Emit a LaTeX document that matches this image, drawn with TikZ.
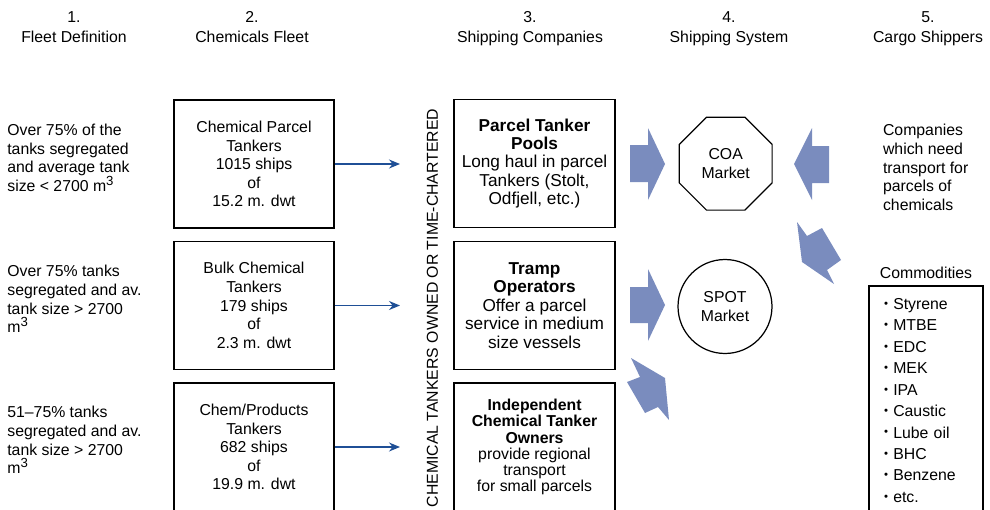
\documentclass[tikz,border=0pt]{standalone}
\usepackage{fontspec}
\setmainfont{Liberation Sans}
\usetikzlibrary{arrows.meta,shapes.geometric}
\definecolor{linkblue}{HTML}{1F4F96}
\definecolor{fatblue}{HTML}{7A8CBE}
\newcommand{\cubed}{\raisebox{0.38em}{\fontsize{7.5}{7.5}\selectfont 3}}
\newcommand{\dotmark}{\raisebox{1.2pt}{\fontsize{6.5}{6.5}\selectfont\textbullet}}

\begin{document}
\begin{tikzpicture}[x=0.02cm, y=-0.02cm,
  every node/.style={font=\fontsize{9}{10.6}\selectfont},
  head/.style={align=center, font=\fontsize{9}{11.2}\selectfont},
  side/.style={align=left, anchor=west, inner sep=0pt},
  fleet/.style={draw, line width=0.7pt, minimum width=3.2cm, minimum height=2.56cm, align=center},
  company/.style={draw, line width=0.7pt, minimum width=3.22cm, minimum height=2.56cm, align=center,
    font=\fontsize{9.8}{10.5}\selectfont},
  market/.style={draw, line width=0.7pt, inner sep=0pt, align=center},
  link/.style={draw=linkblue, line width=0.8pt, -{Stealth[length=2.2mm, width=1.8mm]}},
  fat/.style={fill=fatblue, draw=none}
]
\useasboundingbox (0,0) rectangle (990,510);

% column heads
\node[head] (h1) at (74,27)    {1.\\Fleet Definition};
\node[head] (h2) at (252,27)   {2.\\Chemicals Fleet};
\node[head] (h3) at (530,28.5) {3.\\Shipping Companies};
\node[head] (h4) at (729,28.5) {4.\\Shipping System};
\node[head] (h5) at (928,28.5) {5.\\Cargo Shippers};

% fleet definitions
\node[side] (d1) at (7,158) {Over 75\% of the\\tanks segregated\\and average tank\\size < 2700 m\cubed};
\node[side] (d2) at (7,299) {Over 75\% tanks\\segregated and av.\\tank size > 2700\\m\cubed};
\node[side] (d3) at (7,440) {51--75\% tanks\\segregated and av.\\tank size > 2700\\m\cubed};

% chemicals fleet
\node[fleet] (cf1) at (254,164)   {Chemical Parcel\\Tankers\\1015 ships\\of\\15.2 m. dwt};
\node[fleet] (cf2) at (254,305.5) {Bulk Chemical\\Tankers\\179 ships\\of\\2.3 m. dwt};
\node[fleet] (cf3) at (254,447)   {Chem/Products\\Tankers\\682 ships\\of\\19.9 m. dwt};

\node[rotate=90] (owned) at (432.5,308) {CHEMICAL TANKERS OWNED OR TIME-CHARTERED};

% shipping companies
\node[company] (sc1) at (534.5,163.5) {\textbf{Parcel Tanker}\\\textbf{Pools}\\Long haul in parcel\\Tankers (Stolt,\\Odfjell, etc.)};
\node[company] (sc2) at (534.5,305.5) {\textbf{Tramp}\\\textbf{Operators}\\Offer a parcel\\service in medium\\size vessels};
\node[company, font=\fontsize{9}{9.2}\selectfont] (sc3) at (534.5,447) {\textbf{Independent}\\\textbf{Chemical Tanker}\\\textbf{Owners}\\provide regional\\transport\\for small parcels};

% markets
\node[market, regular polygon, regular polygon sides=8, minimum size=2.01cm] (coa) at (725.7,163.7) {COA\\Market};
\node[market, circle, minimum size=1.88cm] (spot) at (725,306.5) {SPOT\\Market};

% cargo shippers
\node[side] (firms) at (882.7,167.5) {Companies\\which need\\transport for\\parcels of\\chemicals};
\node (comm) at (926,273) {Commodities};
\node[draw, line width=0.7pt, minimum width=2.28cm, minimum height=4.58cm, text width=1.68cm,
  inner xsep=0.3cm, align=left, font=\fontsize{9}{12.2}\selectfont] (list) at (926,400.5)
  {\dotmark{} Styrene\\\dotmark{} MTBE\\\dotmark{} EDC\\\dotmark{} MEK\\\dotmark{} IPA\\
   \dotmark{} Caustic\\\dotmark{} Lube oil\\\dotmark{} BHC\\\dotmark{} Benzene\\\dotmark{} etc.};

% thin arrows
\coordinate (e1) at (400,164);
\coordinate (e2) at (400,305.5);
\coordinate (e3) at (400,447);
\draw[link] (cf1) -- (e1);
\draw[link] (cf2) -- (e2);
\draw[link] (cf3) -- (e3);

% block arrows
\fill[fat] (630,145) -- (648,145) -- (648,128) -- (665,164) -- (648,200) -- (648,182) -- (630,182) -- cycle;
\fill[fat] (630,287) -- (648,287) -- (648,269) -- (665,305) -- (648,341) -- (648,323) -- (630,323) -- cycle;
\fill[fat] (829,146) -- (812,146) -- (812,128) -- (794,164) -- (812,200) -- (812,183) -- (829,183) -- cycle;
\fill[fat] (631,358) -- (665,378) -- (669,420) -- (658,407) -- (645,413) -- (627,382) -- (640,377) -- cycle;
\fill[fat] (797,222) -- (807,236) -- (822,228) -- (841,260) -- (827,270) -- (834,284) -- (802,262) -- cycle;

\end{tikzpicture}
\end{document}
